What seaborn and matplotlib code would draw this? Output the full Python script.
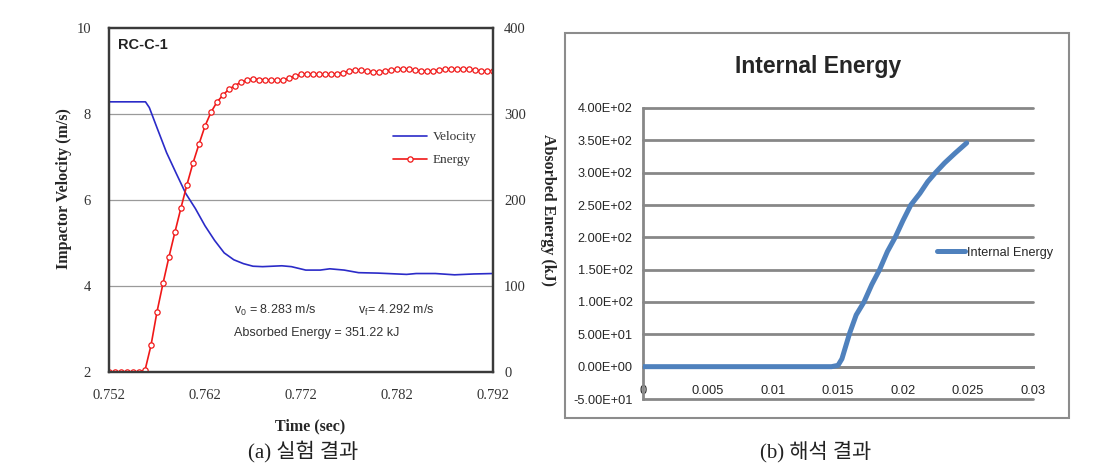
import matplotlib
matplotlib.use("Agg")
import matplotlib.pyplot as plt
import seaborn as sns
from matplotlib.patches import Rectangle
from matplotlib.lines import Line2D

# ---------------- Left panel data (experiment) ----------------
vel_time = [0.7520, 0.7558, 0.7562, 0.7570, 0.7580, 0.7590, 0.7600, 0.7610, 0.7620,
            0.7630, 0.7640, 0.7650, 0.7660, 0.7670, 0.7680, 0.7700, 0.7710, 0.7725,
            0.7740, 0.7750, 0.7765, 0.7780, 0.7800, 0.7830, 0.7840, 0.7860, 0.7880,
            0.7900, 0.7920]
vel_values = [8.283, 8.283, 8.15, 7.68, 7.10, 6.62, 6.15, 5.80, 5.40,
              5.06, 4.77, 4.61, 4.52, 4.46, 4.45, 4.47, 4.45, 4.37,
              4.37, 4.40, 4.37, 4.31, 4.30, 4.27, 4.29, 4.29, 4.26,
              4.28, 4.29]

energy_time = [0.752000, 0.752625, 0.753250, 0.753875, 0.754500, 0.755125, 0.755750,
               0.756375, 0.757000, 0.757625, 0.758250, 0.758875, 0.759500, 0.760125,
               0.760750, 0.761375, 0.762000, 0.762625, 0.763250, 0.763875, 0.764500,
               0.765125, 0.765750, 0.766375, 0.767000, 0.767625, 0.768250, 0.768875,
               0.769500, 0.770125, 0.770750, 0.771375, 0.772000, 0.772625, 0.773250,
               0.773875, 0.774500, 0.775125, 0.775750, 0.776375, 0.777000, 0.777625,
               0.778250, 0.778875, 0.779500, 0.780125, 0.780750, 0.781375, 0.782000,
               0.782625, 0.783250, 0.783875, 0.784500, 0.785125, 0.785750, 0.786375,
               0.787000, 0.787625, 0.788250, 0.788875, 0.789500, 0.790125, 0.790750,
               0.791375, 0.792000]
energy_values = [0, 0, 0, 0, 0, 0, 2,
                 31, 70, 103, 134, 163, 191, 218,
                 243, 265, 286, 302, 314, 322, 329,
                 333, 337, 339, 341, 340, 340, 339,
                 339, 339, 342, 344, 346, 347, 346,
                 346, 346, 346, 347, 348, 350, 351,
                 351, 350, 349, 349, 350, 351, 352,
                 352, 352, 351, 350, 350, 350, 351,
                 352, 352, 352, 352, 352, 351, 350,
                 350, 350]

left_xticks = [0.752, 0.762, 0.772, 0.782, 0.792]
left_xticklabels = ["0.752", "0.762", "0.772", "0.782", "0.792"]
vel_yticks = [2, 4, 6, 8, 10]
energy_yticks = [0, 100, 200, 300, 400]

# ---------------- Right panel data (analysis) ----------------
ie_time = [0.0, 0.005, 0.010, 0.0145, 0.0150, 0.0153, 0.0159, 0.0164, 0.0170,
           0.0176, 0.0182, 0.0188, 0.0194, 0.0200, 0.0206, 0.0213, 0.0219,
           0.0225, 0.0232, 0.0240, 0.0249]
ie_values = [0, 0, 0, 0, 2, 12, 52, 80, 100,
             127, 150, 178, 200, 226, 250, 268, 286,
             300, 315, 330, 346]
right_yticks = [-50, 0, 50, 100, 150, 200, 250, 300, 350, 400]
right_xticks = [0, 0.005, 0.01, 0.015, 0.02, 0.025, 0.03]
right_xticklabels = ["0", "0.005", "0.01", "0.015", "0.02", "0.025", "0.03"]

# ---------------- Style ----------------
sns.set_style("white")
plt.rcParams["font.family"] = ["Liberation Serif", "DejaVu Sans"]
plt.rcParams["mathtext.default"] = "regular"

W, H = 1107, 466
fig = plt.figure(figsize=(W / 100, H / 100), dpi=100)
fig.patch.set_facecolor("white")

SERIF = ["Liberation Serif", "DejaVu Serif"]
SANS = ["Liberation Sans", "DejaVu Sans"]
KR = ["Liberation Serif", "Noto Sans CJK KR", "DejaVu Sans"]

# ---------------- Left panel ----------------
ax1 = fig.add_axes([109 / W, 1 - 372 / H, 384 / W, 344 / H])
ax2 = ax1.twinx()

sns.lineplot(x=vel_time, y=vel_values, ax=ax1, color="#2b2bc8", linewidth=1.2)
sns.lineplot(x=energy_time, y=energy_values, ax=ax2, color="#f01818", linewidth=1.2,
             marker="o", markersize=3.8, markerfacecolor="white",
             markeredgecolor="#f01818", markeredgewidth=0.9)

ax1.set_xlim(0.752, 0.792)
ax1.set_ylim(2, 10)
ax2.set_ylim(0, 400)
ax1.set_xticks(left_xticks)
ax1.set_xticklabels(left_xticklabels)
ax1.set_yticks(vel_yticks)
ax1.set_yticklabels([str(v) for v in vel_yticks])
ax2.set_yticks(energy_yticks)
ax2.set_yticklabels([str(v) for v in energy_yticks])

for yv in [4, 6, 8]:
    ax1.axhline(yv, color="#9a9a9a", linewidth=0.9, zorder=0)

for sp in ["left", "right", "top", "bottom"]:
    ax1.spines[sp].set_color("#3a3a3a")
    ax1.spines[sp].set_linewidth(1.6)
    ax2.spines[sp].set_color("#3a3a3a")
    ax2.spines[sp].set_linewidth(1.6)

ax1.tick_params(axis="x", direction="in", length=3, color="#999999", pad=12,
                labelsize=10.5, labelcolor="#333333")
ax1.tick_params(axis="y", length=0, pad=13, labelsize=10.5, labelcolor="#333333")
ax2.tick_params(axis="y", length=0, pad=8, labelsize=10.5, labelcolor="#333333")
for lab in ax1.get_xticklabels() + ax1.get_yticklabels() + ax2.get_yticklabels():
    lab.set_family(SERIF)

ax1.set_xlabel("Time (sec)", fontsize=11.5, fontweight="bold", family=SERIF, va="center")
ax1.xaxis.set_label_coords((310 - 109) / 384, (372 - 426) / 344)
ax1.set_ylabel("Impactor Velocity (m/s)", fontsize=11.5, fontweight="bold", family=SERIF,
               va="center")
ax1.yaxis.set_label_coords((64 - 109) / 384, (372 - 189) / 344)
ax2.set_ylabel("Absorbed Energy (kJ)", fontsize=11.5,
               fontweight="bold", family=SERIF, rotation=270, va="center")
ax2.yaxis.set_label_coords((548 - 109) / 384, (372 - 210) / 344)

ax1.text(0.023, 0.951, "RC-C-1", transform=ax1.transAxes, fontsize=10.5,
         fontweight="bold", family=SANS, va="center", ha="left", color="#222222")
ax1.text(0.7650, 3.44, "v$_0$ = 8.283 m/s", fontsize=9, family=SANS, va="center",
         ha="left", color="#333333")
ax1.text(0.7779, 3.44, "v$_f$= 4.292 m/s", fontsize=9, family=SANS, va="center",
         ha="left", color="#333333")
ax1.text(0.7650, 2.90, "Absorbed Energy = 351.22 kJ", fontsize=9, family=SANS,
         va="center", ha="left", color="#333333")

h_vel = Line2D([], [], color="#2b2bc8", linewidth=1.2)
h_en = Line2D([], [], color="#f01818", linewidth=1.2, marker="o", markersize=3.8,
              markerfacecolor="white", markeredgecolor="#f01818", markeredgewidth=0.9)
leg1 = ax2.legend([h_vel, h_en], ["Velocity", "Energy"], loc="upper left",
                  bbox_to_anchor=(0.740, 0.700), frameon=False, borderpad=0,
                  borderaxespad=0, handlelength=2.6, handletextpad=0.4,
                  labelspacing=0.8, prop={"family": SERIF, "size": 9.5})
for t in leg1.get_texts():
    t.set_color("#333333")

# ---------------- Right panel ----------------
fig.patches.append(Rectangle((565 / W, 1 - 418 / H), (1069 - 565) / W, (418 - 33) / H,
                             transform=fig.transFigure, fill=False,
                             edgecolor="#8c8c8c", linewidth=1.5, zorder=0))

ax3 = fig.add_axes([643 / W, 1 - 399 / H, 390 / W, 291 / H])
ax3.set_facecolor("none")
sns.lineplot(x=ie_time, y=ie_values, ax=ax3, color="#4f81bd", linewidth=3.6,
             solid_capstyle="round", label="Internal Energy", zorder=3)
ax3.set_xlim(0, 0.03)
ax3.set_ylim(-50, 400)
ax3.set_yticks(right_yticks)
ax3.set_yticklabels(["{:.2E}".format(v) for v in right_yticks])
ax3.set_xticks(right_xticks)
ax3.set_xticklabels(right_xticklabels)
ax3.grid(axis="y", color="#878787", linewidth=2.0)
ax3.grid(axis="x", visible=False)
ax3.set_axisbelow(True)
for gl in ax3.yaxis.get_gridlines():
    gl.set_clip_on(False)
for sp in ["top", "right"]:
    ax3.spines[sp].set_visible(False)
ax3.spines["left"].set_color("#878787")
ax3.spines["left"].set_linewidth(2.0)
ax3.spines["bottom"].set_color("#878787")
ax3.spines["bottom"].set_linewidth(2.0)
ax3.spines["bottom"].set_position(("data", 0))
ax3.spines["bottom"].set_zorder(2)
ax3.tick_params(axis="y", direction="out", length=3.5, width=2, color="#878787",
                pad=4, labelsize=9.2)
ax3.tick_params(axis="x", direction="out", length=2.5, width=1.5, color="#878787",
                pad=11, labelsize=9.3)
for lab in ax3.get_xticklabels() + ax3.get_yticklabels():
    lab.set_family(SANS)
ax3.set_xlabel("")
ax3.set_ylabel("")
leg3 = ax3.legend(loc="center left", bbox_to_anchor=(0.754, 0.502), frameon=False,
                  borderpad=0, borderaxespad=0, handlelength=2.2, handletextpad=0.2,
                  prop={"family": SANS, "size": 9.1})

fig.text(818 / W, 1 - 67 / H, "Internal Energy", fontsize=16.5, fontweight="bold",
         family=SANS, ha="center", va="center")

# ---------------- Captions ----------------
fig.text(303 / W, 1 - 452 / H, "(a) 실험 결과", fontsize=15, family=KR,
         ha="center", va="center", color="#222222")
fig.text(816 / W, 1 - 452 / H, "(b) 해석 결과", fontsize=15, family=KR,
         ha="center", va="center", color="#222222")

fig.savefig("out.png", dpi=100, facecolor="white")
